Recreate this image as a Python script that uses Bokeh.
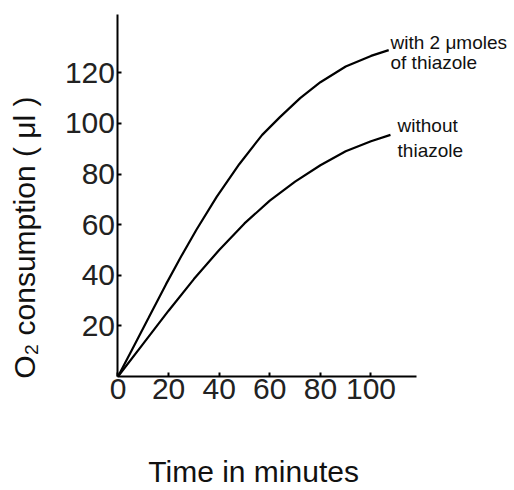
import math
from bokeh.plotting import figure
from bokeh.models import Range1d, FixedTicker, Label
from bokeh.embed import file_html
from bokeh.resources import INLINE

# Data
time_with = [0, 6, 12, 19, 25, 31, 39, 48, 57, 64, 72, 80, 90, 100, 107]
o2_with = [0, 11.5, 23, 36.5, 47.5, 58, 71, 84, 95.5, 102.5, 110, 116.3, 122.5, 126.7, 129]

time_without = [0, 10, 20, 30, 40, 50, 60, 70, 80, 90, 100, 107.7]
o2_without = [0, 13, 26, 38.5, 50, 60.5, 69.5, 77, 83.5, 89, 93, 95.5]

x_ticks = [0, 20, 40, 60, 80, 100]
y_ticks = [20, 40, 60, 80, 100, 120]

x_label = "Time in minutes"
y_label = "O\u2082 consumption ( \u03bcl )"

FONT = "Liberation Sans"

p = figure(width=514, height=490, output_backend="svg", toolbar_location=None,
           x_range=Range1d(-46.44, 156.72), y_range=Range1d(-45.06, 148.6),
           min_border_left=0, min_border_right=0,
           min_border_top=0, min_border_bottom=0)
p.outline_line_color = None
p.xgrid.grid_line_color = None
p.ygrid.grid_line_color = None
p.background_fill_color = "white"
p.border_fill_color = "white"

p.line(time_with, o2_with, line_color="black", line_width=2.2)
p.line(time_without, o2_without, line_color="black", line_width=2.2)

for ax in (p.xaxis[0], p.yaxis[0]):
    ax.fixed_location = 0
    ax.axis_line_width = 2
    ax.axis_line_color = "black"
    ax.major_tick_in = 4
    ax.major_tick_out = 0
    ax.major_tick_line_width = 2
    ax.minor_tick_line_color = None
    ax.major_label_text_font = FONT
    ax.major_label_text_font_size = "30px"
    ax.major_label_text_color = "#222222"

p.xaxis[0].bounds = (0, 118)
p.yaxis[0].bounds = (0, 143)
p.xaxis[0].ticker = FixedTicker(ticks=x_ticks)
p.yaxis[0].ticker = FixedTicker(ticks=y_ticks)
p.xaxis[0].major_label_standoff = 3
p.yaxis[0].major_label_standoff = 3

axis_title_style = dict(text_font=FONT, text_font_size="30px", text_color="#111111",
                        text_baseline="middle", text_align="center")
p.add_layout(Label(x=53.6, y=-37.6, text=x_label, **axis_title_style))
p.add_layout(Label(x=-36.8, y=54.9, text=y_label, angle=math.pi / 2, **axis_title_style))

label_style = dict(text_font=FONT, text_font_size="19px", text_color="#111111",
                   text_baseline="middle", text_align="left")
p.add_layout(Label(x=107.7, y=132, text="with 2 \u03bcmoles", **label_style))
p.add_layout(Label(x=107.7, y=124.1, text="of thiazole", **label_style))
p.add_layout(Label(x=110.5, y=99.2, text="without", **label_style))
p.add_layout(Label(x=110.5, y=89.3, text="thiazole", **label_style))

open("out.html", "w").write(file_html(p, INLINE))
